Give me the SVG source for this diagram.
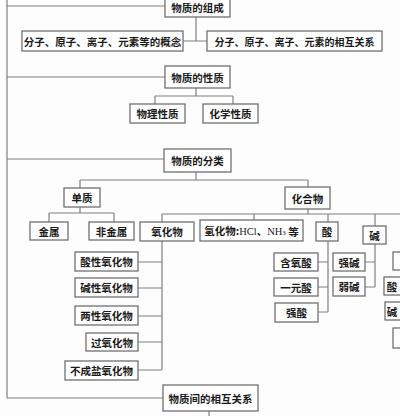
<svg xmlns="http://www.w3.org/2000/svg" width="400" height="416" viewBox="0 0 400 416">
<style>
.b{fill:#fff;stroke:#707070;stroke-width:1.3}
.t{font-family:"Noto Sans CJK SC","Noto Sans CJK JP",sans-serif;font-size:10.5px;font-weight:bold;fill:#1a1a1a;text-anchor:middle;dominant-baseline:central}
.sm{font-size:10px}
.s{font-family:"Liberation Serif",serif;font-weight:normal}
.c{fill:none;stroke:#808080;stroke-width:1.2}
</style>
<rect width="400" height="416" fill="#fdfdfe"/>
<g id="connectors" class="c">
<path d="M7,0V398M7,6H165M7,77H165M7,159H164M7,398H163"/>
<path d="M196,17V41M183,41H207"/>
<path d="M196,88V96M155,96H233M155,96V104M233,96V104"/>
<path d="M196,172V180M80,180H308M80,180V188M308,180V187"/>
<path d="M80,207V213M49,213H114M49,213V222M114,213V222"/>
<path d="M308,209V214M162,214H400M162,214V222M254,214V220M328,214V222M375,214V226"/>
<path d="M162,241V370M138,262H162M138,288H162M138,316H162M138,342H162M138,370H162"/>
<path d="M328,241V312M318,262H328M318,287H328M318,312H328"/>
<path d="M375,244V287M365,262H375M365,287H375"/>
<path d="M209,411V416"/>
</g>
<g id="n1"><rect class="b" x="165" y="-3" width="65" height="20"/><text class="t" x="197.5" y="7.5">物质的组成</text></g>
<g id="n2"><rect class="b" x="22" y="31" width="161" height="20"/><text class="t" x="102.5" y="41">分子、原子、离子、元素等的概念</text></g>
<g id="n3"><rect class="b" x="207" y="31" width="175" height="20"/><text class="t sm" x="294.5" y="41">分子、原子、离子、元素的相互关系</text></g>
<g id="n4"><rect class="b" x="165" y="66" width="65" height="22"/><text class="t" x="197.5" y="77">物质的性质</text></g>
<g id="n5"><rect class="b" x="130" y="104" width="55" height="19"/><text class="t" x="157.5" y="113.5">物理性质</text></g>
<g id="n6"><rect class="b" x="203" y="104" width="55" height="19"/><text class="t" x="230.5" y="113.5">化学性质</text></g>
<g id="n7"><rect class="b" x="164" y="149" width="67" height="23"/><text class="t" x="197.5" y="160.5">物质的分类</text></g>
<g id="n8"><rect class="b" x="64" y="188" width="36" height="19"/><text class="t" x="82" y="197.5">单质</text></g>
<g id="n9"><rect class="b" x="285" y="187" width="45" height="22"/><text class="t" x="307.5" y="198">化合物</text></g>
<g id="n10"><rect class="b" x="30" y="222" width="38" height="18"/><text class="t" x="49" y="231">金属</text></g>
<g id="n11"><rect class="b" x="89" y="222" width="45" height="18"/><text class="t" x="111.5" y="231">非金属</text></g>
<g id="n12"><rect class="b" x="140" y="222" width="54" height="19"/><text class="t" x="167" y="231.5">氧化物</text></g>
<g id="n13"><rect class="b" x="200" y="220" width="103" height="21"/><text class="t" x="251.5" y="230.5">氢化物:<tspan class="s">HCl</tspan>、<tspan class="s">NH</tspan><tspan class="s" font-size="7" dy="2">3</tspan><tspan dy="-2"> 等</tspan></text></g>
<g id="n14"><rect class="b" x="316" y="222" width="22" height="19"/><text class="t" x="327" y="231.5">酸</text></g>
<g id="n15"><rect class="b" x="363" y="226" width="23" height="18"/><text class="t" x="374.5" y="235">碱</text></g>
<g id="n16"><rect class="b" x="274" y="253" width="44" height="18"/><text class="t" x="296" y="262">含氧酸</text></g>
<g id="n17"><rect class="b" x="274" y="278" width="44" height="18"/><text class="t" x="296" y="287">一元酸</text></g>
<g id="n18"><rect class="b" x="275" y="303" width="43" height="19"/><text class="t" x="296.5" y="312.5">强酸</text></g>
<g id="n19"><rect class="b" x="333" y="253" width="32" height="18"/><text class="t" x="349" y="262">强碱</text></g>
<g id="n20"><rect class="b" x="333" y="277" width="32" height="19"/><text class="t" x="349" y="286.5">弱碱</text></g>
<g id="n21"><rect class="b" x="75" y="252" width="63" height="19"/><text class="t" x="106.5" y="261.5">酸性氧化物</text></g>
<g id="n22"><rect class="b" x="75" y="278" width="63" height="19"/><text class="t" x="106.5" y="287.5">碱性氧化物</text></g>
<g id="n23"><rect class="b" x="75" y="306" width="63" height="19"/><text class="t" x="106.5" y="315.5">两性氧化物</text></g>
<g id="n24"><rect class="b" x="86" y="333" width="52" height="18"/><text class="t" x="112" y="342">过氧化物</text></g>
<g id="n25"><rect class="b" x="65" y="361" width="73" height="19"/><text class="t" x="101.5" y="370.5">不成盐氧化物</text></g>
<g id="n26"><rect class="b" x="163" y="385" width="95" height="26"/><text class="t" x="210.5" y="398">物质间的相互关系</text></g>
<g id="n27"><rect class="b" x="393" y="252" width="20" height="18"/></g>
<g id="n28"><rect class="b" x="384" y="277" width="30" height="18"/><text class="t" x="392" y="286">酸</text></g>
<g id="n29"><rect class="b" x="385" y="302" width="30" height="18"/><text class="t" x="392" y="311">碱</text></g>
<g id="n30"><rect class="b" x="393" y="328" width="20" height="20"/></g>
</svg>
